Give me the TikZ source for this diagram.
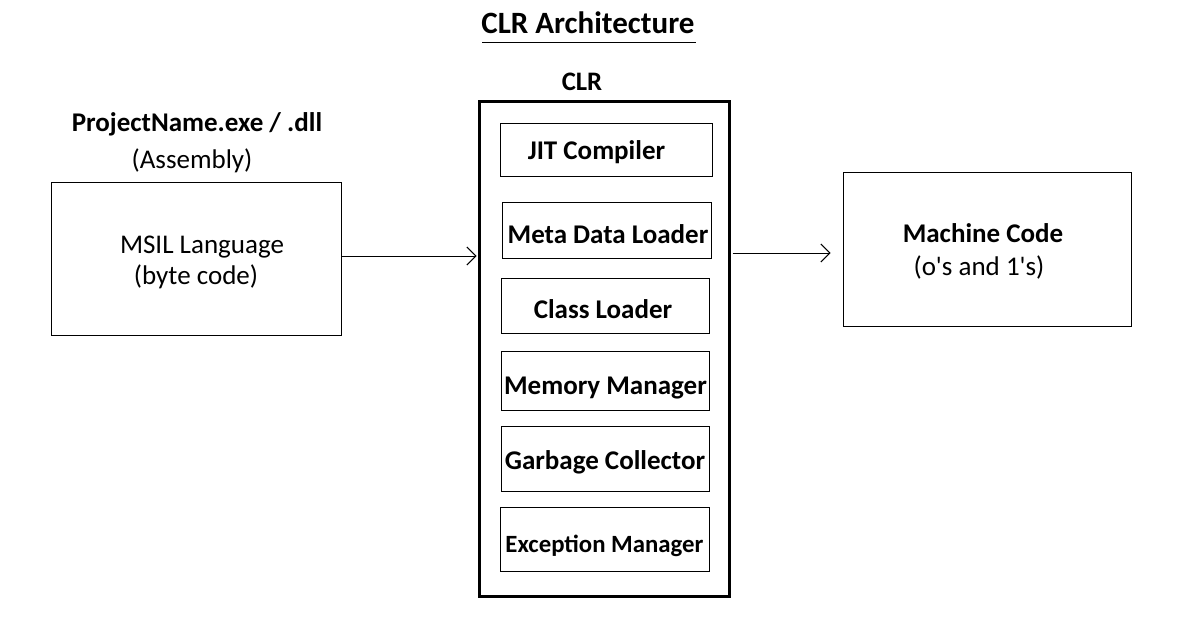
\documentclass[tikz,border=0pt]{standalone}
\usepackage{fontspec}
\setmainfont{Carlito}
\usetikzlibrary{arrows.meta}
\begin{document}
\begin{tikzpicture}[x=1pt,y=-1pt,
  box/.style={draw,line width=1pt,inner sep=0pt},
  clrbox/.style={draw,line width=3pt,inner sep=0pt},
  bt/.style={anchor=base,inner sep=0pt,font=\bfseries\fontsize{27}{32}\selectfont},
  nt/.style={anchor=base,inner sep=0pt,font=\fontsize{27}{32}\selectfont},
  arr/.style={line width=1pt,-{Straight Barb[length=9pt,width=18pt,line width=1pt]}}
]
\useasboundingbox (0,0) rectangle (1203,624);
\fill[white] (0,0) rectangle (1203,624);

% title
\node[bt,font=\bfseries\fontsize{31}{36}\selectfont] (title) at (588,33) {CLR Architecture};
\draw[line width=1pt] (482,42) coordinate (ul1) -- (696,42) coordinate (ul2);

% CLR
\node[bt,font=\bfseries\fontsize{26.7}{32}\selectfont] (clrlbl) at (582,90) {CLR};
\node[clrbox,minimum width=250pt,minimum height=495pt] (clr) at (604.5,348.5) {};

% inner boxes
\node[box,minimum width=212pt,minimum height=53pt] (jitb) at (606,149.5) {};
\node[bt] (jit) at (596.5,159) {JIT Compiler};
\node[box,minimum width=209pt,minimum height=56pt] (metab) at (606.5,230) {};
\node[bt] (meta) at (608,243) {Meta Data Loader};
\node[box,minimum width=208pt,minimum height=55pt] (classb) at (605,305.5) {};
\node[bt] (class) at (603,318) {Class Loader};
\node[box,minimum width=208pt,minimum height=59pt] (memb) at (605,380.5) {};
\node[bt] (mem) at (605.5,394) {Memory Manager};
\node[box,minimum width=208pt,minimum height=65pt] (gcb) at (605,458.5) {};
\node[bt] (gc) at (605,469) {Garbage Collector};
\node[box,minimum width=209pt,minimum height=64pt] (excb) at (604.5,539) {};
\node[bt,font=\bfseries\fontsize{24.8}{30}\selectfont] (exc) at (604.5,552) {Exception Manager};

% left
\node[bt] (proj) at (197,131) {ProjectName.exe / .dll};
\node[nt] (asm) at (192,168) {(Assembly)};
\node[box,minimum width=290pt,minimum height=153pt] (msilb) at (196,258.5) {};
\node[nt] (msil1) at (202,253) {MSIL Language};
\node[nt] (msil2) at (196,284) {(byte code)};

% right
\node[box,minimum width=288pt,minimum height=154pt] (mcb) at (987,249) {};
\node[bt] (mc1) at (983,242) {Machine Code};
\node[nt] (mc2) at (979,275) {(o\textquotesingle s and 1\textquotesingle s)};

% arrows
\draw[arr] (msilb.east |- 0,256) -- ([xshift=-1.5pt]clr.west |- 0,256);
\draw[arr] ([xshift=1.5pt]clr.east |- 0,253) -- ([xshift=-12pt]mcb.west |- 0,253);
\end{tikzpicture}
\end{document}
